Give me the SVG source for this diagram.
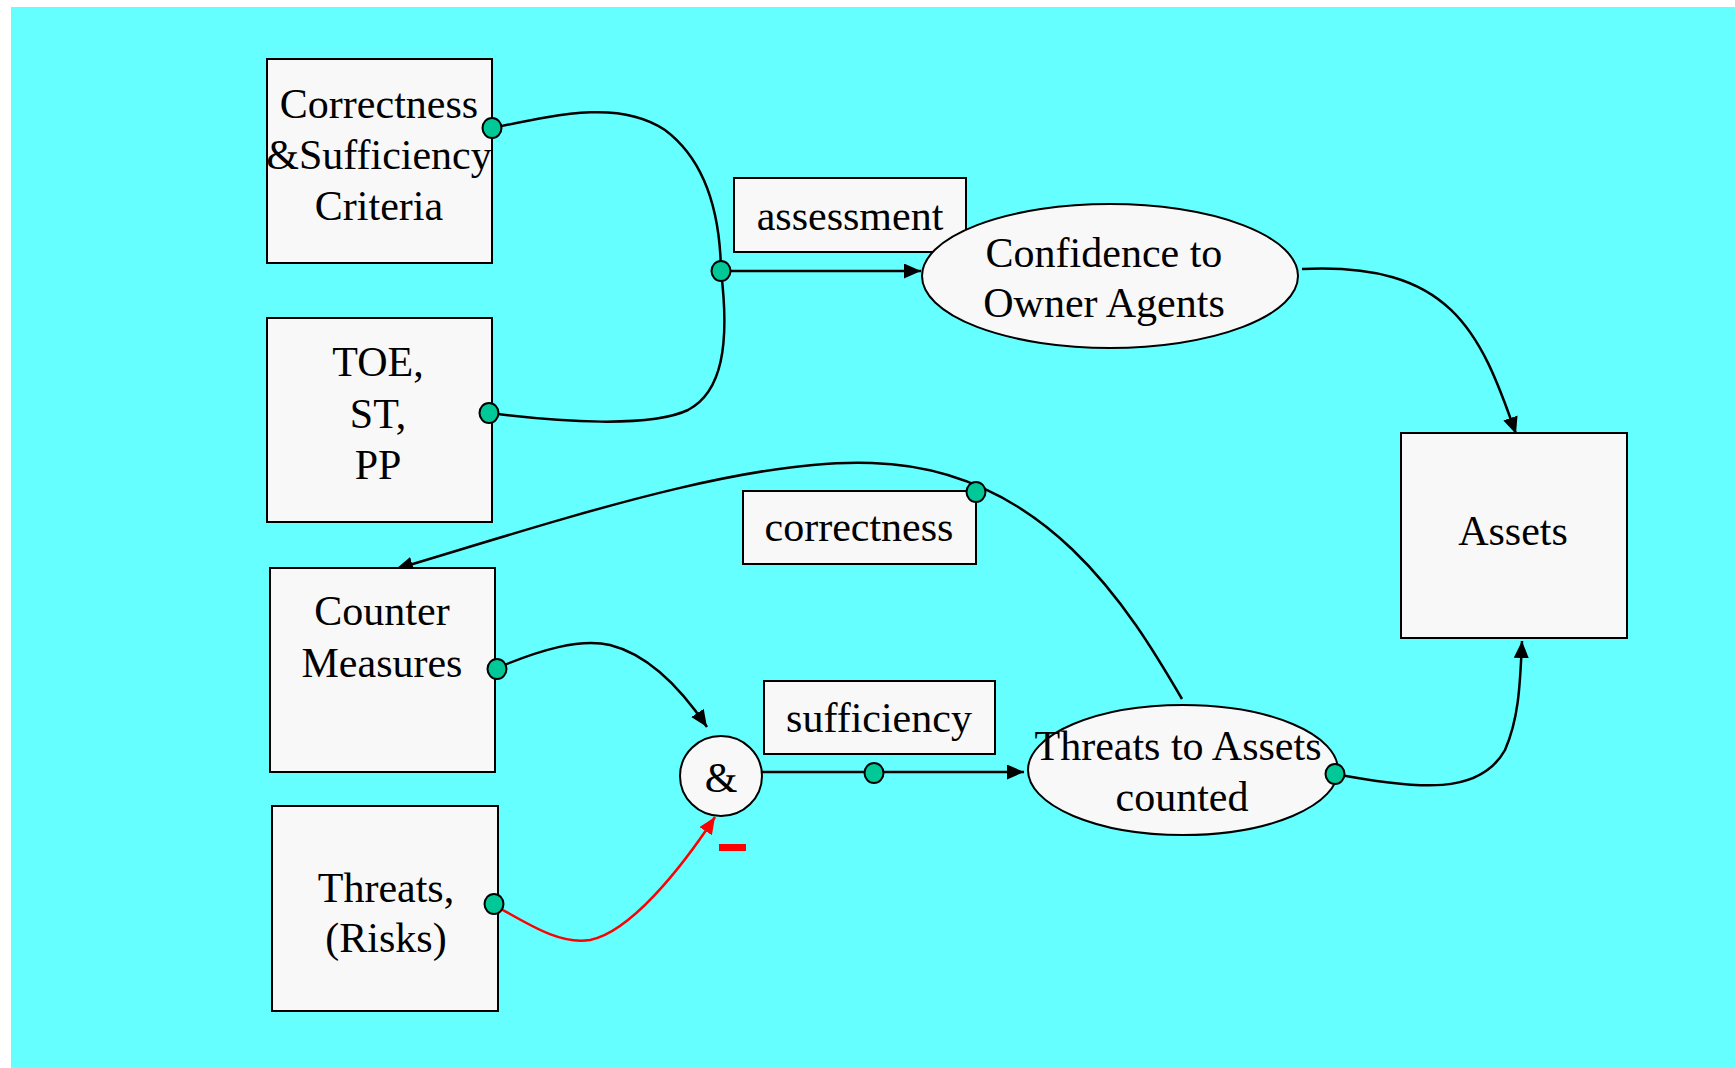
<svg xmlns="http://www.w3.org/2000/svg" width="1735" height="1068" viewBox="0 0 1735 1068">
  <defs>
    <marker id="arrow" markerUnits="userSpaceOnUse" markerWidth="18" markerHeight="16" refX="17" refY="7.5" orient="auto">
      <path d="M0,0 L17,7.5 L0,15 z" fill="#000"/>
    </marker>
    <marker id="arrow-red" markerUnits="userSpaceOnUse" markerWidth="18" markerHeight="16" refX="17" refY="7.5" orient="auto">
      <path d="M0,0 L17,7.5 L0,15 z" fill="#ff0000"/>
    </marker>
  </defs>
  <style>
    .box { fill: #f8f8f8; stroke: #000; stroke-width: 2; }
    .lbl { fill: #f8f8f8; stroke: #000; stroke-width: 2; }
    .txt { font-family: "Liberation Serif", "Times New Roman", serif; font-size: 42px; fill: #000; text-anchor: middle; }
    .wire { fill: none; stroke: #000; stroke-width: 2.5; }
    .wire-red { fill: none; stroke: #ff0000; stroke-width: 2.5; }
    .dot { fill: #00c896; stroke: #000; stroke-width: 2; }
  </style>

  <!-- page background -->
  <rect x="0" y="0" width="1735" height="1068" fill="#ffffff"/>
  <rect x="11" y="7" width="1724" height="1061" fill="#66ffff"/>

  <!-- connectors -->
  <g id="connectors">
    <!-- criteria + TOE merge into the assessment junction -->
    <path class="wire" d="M492,128 C560,114 620,100 665,130 C705,160 720,210 721,271 C730,345 722,392 688,410 C650,428 560,422 489,413"/>
    <path class="wire" d="M721,271 L921,271" marker-end="url(#arrow)"/>
    <!-- confidence to assets -->
    <path class="wire" d="M1302,269 C1450,262 1480,330 1516,434" marker-end="url(#arrow)"/>
    <!-- threats counted back to counter measures (correctness) -->
    <path class="wire" d="M1182,699 C1130,610 1045,468 872,463 C745,458 560,520 396,569" marker-end="url(#arrow)"/>
    <!-- counter measures into & -->
    <path class="wire" d="M497,668 C540,650 580,638 610,645 C650,655 682,690 707,727" marker-end="url(#arrow)"/>
    <!-- threats (negated) into & -->
    <path class="wire-red" d="M494,905 C530,925 560,945 590,940 C630,932 680,870 715,817" marker-end="url(#arrow-red)"/>
    <!-- & to threats counted (sufficiency) -->
    <path class="wire" d="M761,772 L1024,772" marker-end="url(#arrow)"/>
    <!-- threats counted to assets -->
    <path class="wire" d="M1335,774 C1420,790 1480,795 1505,750 C1518,720 1520,690 1522,641" marker-end="url(#arrow)"/>
  </g>

  <!-- connector labels -->
  <g id="label-assessment">
    <rect class="lbl" x="734" y="178" width="232" height="74"/>
    <text class="txt" x="850" y="230">assessment</text>
  </g>
  <g id="label-correctness">
    <rect class="lbl" x="743" y="491" width="233" height="73"/>
    <text class="txt" x="859" y="541">correctness</text>
  </g>
  <g id="label-sufficiency">
    <rect class="lbl" x="764" y="681" width="231" height="73"/>
    <text class="txt" x="879" y="732">sufficiency</text>
  </g>

  <!-- nodes -->
  <g id="node-criteria">
    <rect class="box" x="267" y="59" width="225" height="204"/>
    <text class="txt" x="379" y="118">Correctness</text>
    <text class="txt" x="379" y="169">&amp;Sufficiency</text>
    <text class="txt" x="379" y="220">Criteria</text>
  </g>
  <g id="node-toe">
    <rect class="box" x="267" y="318" width="225" height="204"/>
    <text class="txt" x="378" y="376">TOE,</text>
    <text class="txt" x="378" y="428">ST,</text>
    <text class="txt" x="378" y="479">PP</text>
  </g>
  <g id="node-counter">
    <rect class="box" x="270" y="568" width="225" height="204"/>
    <text class="txt" x="382" y="625">Counter</text>
    <text class="txt" x="382" y="677">Measures</text>
  </g>
  <g id="node-threats">
    <rect class="box" x="272" y="806" width="226" height="205"/>
    <text class="txt" x="386" y="902">Threats,</text>
    <text class="txt" x="386" y="952">(Risks)</text>
  </g>
  <g id="node-assets">
    <rect class="box" x="1401" y="433" width="226" height="205"/>
    <text class="txt" x="1513" y="545">Assets</text>
  </g>
  <g id="node-confidence">
    <ellipse class="box" cx="1110" cy="276" rx="188" ry="72"/>
    <text class="txt" x="1104" y="267">Confidence to</text>
    <text class="txt" x="1104" y="317">Owner Agents</text>
  </g>
  <g id="node-counted">
    <ellipse class="box" cx="1183" cy="770" rx="155" ry="65"/>
    <text class="txt" x="1178" y="760">Threats to Assets</text>
    <text class="txt" x="1182" y="811">counted</text>
  </g>
  <g id="node-and">
    <ellipse class="box" cx="721" cy="776" rx="41" ry="40"/>
    <text class="txt" x="721" y="792">&amp;</text>
  </g>

  <!-- negation mark on the threats input -->
  <rect x="719" y="844" width="27" height="7" fill="#ff0000"/>

  <!-- connection ports -->
  <g id="ports">
    <ellipse class="dot" cx="492" cy="128" rx="9.5" ry="10"/>
    <ellipse class="dot" cx="721" cy="271" rx="9.5" ry="10"/>
    <ellipse class="dot" cx="489" cy="413" rx="9.5" ry="10"/>
    <ellipse class="dot" cx="976" cy="492" rx="9.5" ry="10"/>
    <ellipse class="dot" cx="497" cy="669" rx="9.5" ry="10"/>
    <ellipse class="dot" cx="494" cy="904" rx="9.5" ry="10"/>
    <ellipse class="dot" cx="874" cy="773" rx="9.5" ry="10"/>
    <ellipse class="dot" cx="1335" cy="774" rx="9.5" ry="10"/>
  </g>
</svg>
